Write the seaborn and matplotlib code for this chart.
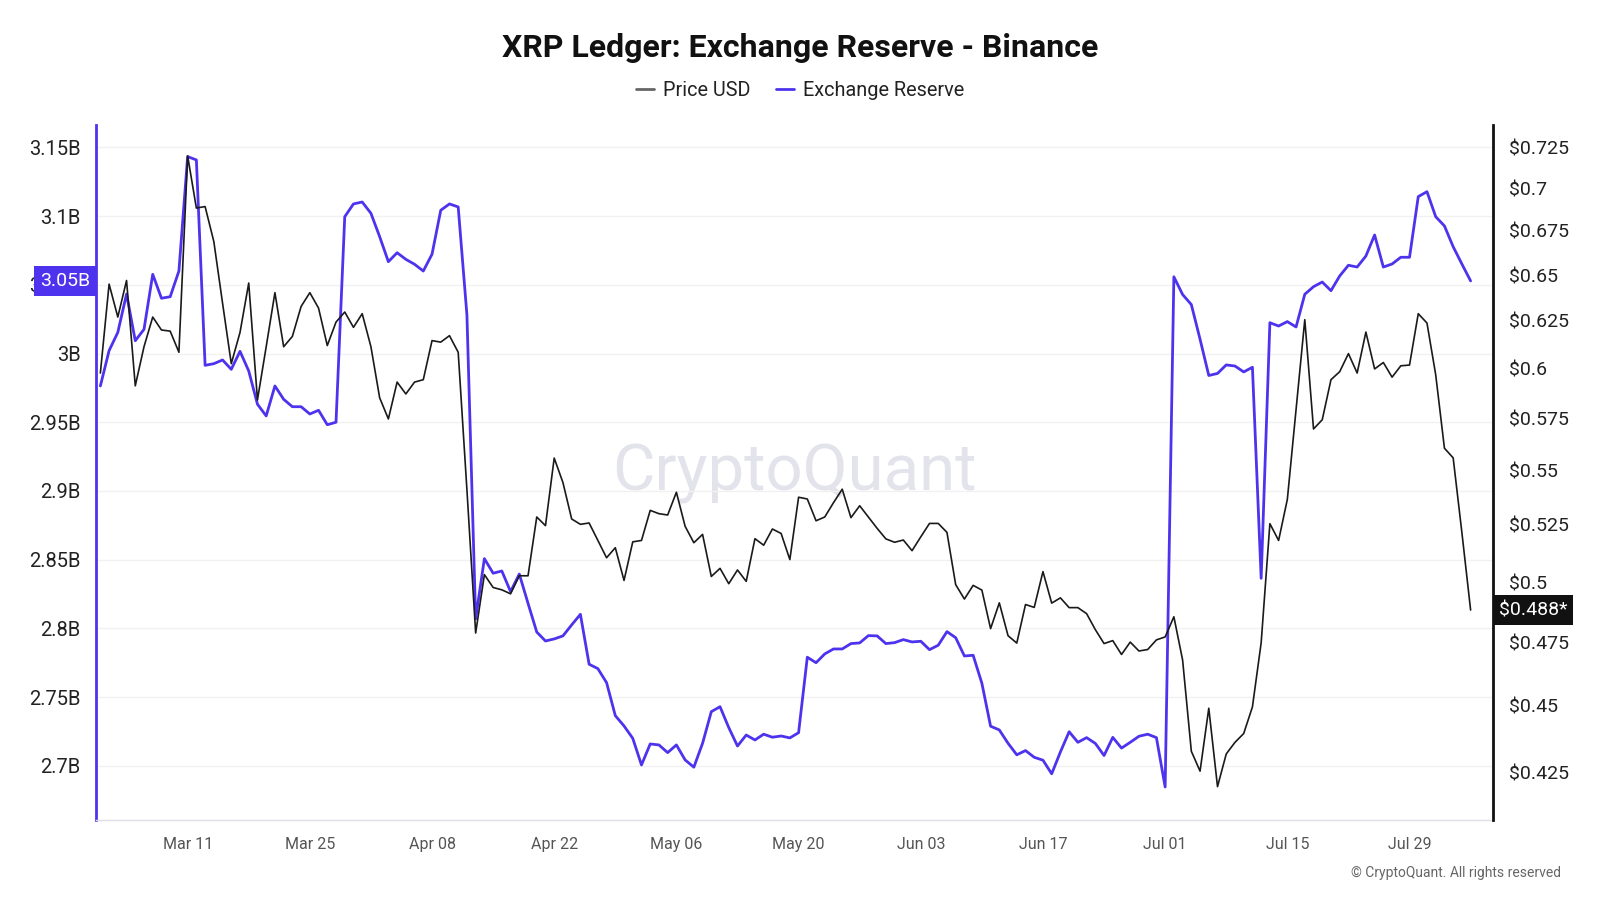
import pandas as pd
import seaborn as sns
import matplotlib.pyplot as plt
import matplotlib.dates as mdates
import matplotlib.transforms as mtransforms
from matplotlib.lines import Line2D
from matplotlib.ticker import NullLocator

# Daily values, 2024-03-01 .. 2024-08-05
price_usd = [
    0.5978, 0.6450, 0.6271, 0.6470, 0.5913, 0.6114, 0.6271, 0.6202, 0.6196, 0.6085,
    0.7197, 0.6883, 0.6892, 0.6689, 0.6346, 0.6026, 0.6189, 0.6456, 0.5842, 0.6114,
    0.6403, 0.6114, 0.6168, 0.6328, 0.6403, 0.6319, 0.6120, 0.6244, 0.6298, 0.6216,
    0.6289, 0.6114, 0.5853, 0.5748, 0.5932, 0.5872, 0.5932, 0.5944, 0.6146, 0.6138,
    0.6172, 0.6085, 0.5410, 0.4787, 0.5032, 0.4977, 0.4967, 0.4950, 0.5027, 0.5027,
    0.5286, 0.5247, 0.5559, 0.5444, 0.5277, 0.5253, 0.5259, 0.5181, 0.5105, 0.5149,
    0.5007, 0.5175, 0.5181, 0.5316, 0.5301, 0.5295, 0.5399, 0.5244, 0.5171, 0.5208,
    0.5024, 0.5059, 0.4993, 0.5052, 0.5003, 0.5189, 0.5160, 0.5232, 0.5212, 0.5097,
    0.5376, 0.5368, 0.5269, 0.5286, 0.5351, 0.5413, 0.5283, 0.5337, 0.5286, 0.5235,
    0.5188, 0.5173, 0.5183, 0.5136, 0.5197, 0.5257, 0.5257, 0.5217, 0.4989, 0.4928,
    0.4986, 0.4966, 0.4805, 0.4912, 0.4776, 0.4746, 0.4905, 0.4893, 0.5045, 0.4911,
    0.4933, 0.4892, 0.4892, 0.4867, 0.4801, 0.4744, 0.4756, 0.4700, 0.4750, 0.4714,
    0.4720, 0.4759, 0.4771, 0.4854, 0.4678, 0.4327, 0.4254, 0.4489, 0.4198, 0.4317,
    0.4360, 0.4393, 0.4494, 0.4747, 0.5256, 0.5181, 0.5366, 0.5793, 0.6257, 0.5699,
    0.5744, 0.5944, 0.5985, 0.6078, 0.5978, 0.6191, 0.5999, 0.6032, 0.5957, 0.6015,
    0.6019, 0.6289, 0.6239, 0.5969, 0.5606, 0.5560, 0.5216, 0.4882,
]

# Exchange reserve in billions XRP
reserve_b = [
    2.9764, 3.0021, 3.0154, 3.0433, 3.0093, 3.0176, 3.0576, 3.0402, 3.0413, 3.0600,
    3.1432, 3.1408, 2.9914, 2.9926, 2.9953, 2.9885, 3.0016, 2.9873, 2.9631, 2.9546,
    2.9764, 2.9667, 2.9613, 2.9613, 2.9560, 2.9587, 2.9482, 2.9500, 3.0995, 3.1088,
    3.1102, 3.1020, 3.0850, 3.0668, 3.0733, 3.0685, 3.0649, 3.0600, 3.0722, 3.1042,
    3.1088, 3.1066, 3.0280, 2.8070, 2.8508, 2.8402, 2.8418, 2.8268, 2.8396, 2.8183,
    2.7974, 2.7909, 2.7924, 2.7946, 2.8026, 2.8103, 2.7740, 2.7708, 2.7606, 2.7366,
    2.7291, 2.7201, 2.7007, 2.7160, 2.7153, 2.7097, 2.7153, 2.7044, 2.6991, 2.7165,
    2.7395, 2.7431, 2.7279, 2.7145, 2.7225, 2.7189, 2.7231, 2.7209, 2.7218, 2.7204,
    2.7242, 2.7791, 2.7751, 2.7815, 2.7851, 2.7851, 2.7890, 2.7895, 2.7948, 2.7946,
    2.7890, 2.7897, 2.7919, 2.7902, 2.7907, 2.7846, 2.7878, 2.7977, 2.7933, 2.7800,
    2.7805, 2.7602, 2.7289, 2.7262, 2.7165, 2.7081, 2.7112, 2.7063, 2.7042, 2.6943,
    2.7102, 2.7249, 2.7172, 2.7206, 2.7164, 2.7076, 2.7208, 2.7130, 2.7172, 2.7216,
    2.7231, 2.7206, 2.6847, 3.0558, 3.0429, 3.0356, 3.0104, 2.9840, 2.9855, 2.9917,
    2.9909, 2.9866, 2.9900, 2.8365, 3.0224, 3.0200, 3.0232, 3.0193, 3.0431, 3.0486,
    3.0520, 3.0457, 3.0564, 3.0642, 3.0629, 3.0709, 3.0862, 3.0629, 3.0651, 3.0700,
    3.0700, 3.1141, 3.1177, 3.0995, 3.0928, 3.0777, 3.0651, 3.0528,
]

reserve_ticks = [2.7, 2.75, 2.8, 2.85, 2.9, 2.95, 3.0, 3.05, 3.1, 3.15]
reserve_labels = ['2.7B', '2.75B', '2.8B', '2.85B', '2.9B', '2.95B', '3B', '3.05B', '3.1B', '3.15B']
price_ticks = [0.425, 0.45, 0.475, 0.5, 0.525, 0.55, 0.575, 0.6, 0.625, 0.65, 0.675, 0.7, 0.725]
price_labels = ['$0.425', '$0.45', '$0.475', '$0.5', '$0.525', '$0.55', '$0.575', '$0.6',
                '$0.625', '$0.65', '$0.675', '$0.7', '$0.725']
date_ticks = pd.date_range('2024-03-11', '2024-07-29', freq='14D')

df = pd.DataFrame({
    'date': pd.date_range('2024-03-01', periods=len(price_usd), freq='D'),
    'price': price_usd,
    'reserve': reserve_b,
})

BLUE = '#4d33ee'
BLACK = '#1a1a1a'

sns.set_theme(style='white')
plt.rcParams['font.family'] = ['Roboto', 'DejaVu Sans']

fig = plt.figure(figsize=(16, 9), dpi=100)
ax = fig.add_axes([0.06, 0.0889, 0.873, 0.7722])

# Exchange reserve on the left axis
sns.lineplot(data=df, x='date', y='reserve', ax=ax, color=BLUE, linewidth=2.0)
ax.set_ylim(2.6607, 3.1662)
ax.set_yticks(reserve_ticks)
ax.set_yticklabels(reserve_labels)
ax.yaxis.grid(True, color='#f1f1f1', linewidth=1)
ax.xaxis.grid(False)
ax.set_xlabel('')
ax.set_ylabel('')

ax.set_xlim(pd.Timestamp('2024-02-29 12:00'), pd.Timestamp('2024-08-07 13:00'))
ax.set_xticks(date_ticks)
ax.xaxis.set_major_formatter(mdates.DateFormatter('%b %d'))
ax.tick_params(axis='x', length=0, pad=12, labelsize=11.5, labelcolor='#555555')
ax.tick_params(axis='y', length=0, pad=11, labelsize=14.5, labelcolor='#222222')

for side in ['top', 'right']:
    ax.spines[side].set_visible(False)
ax.spines['left'].set_color(BLUE)
ax.spines['left'].set_linewidth(2)
ax.spines['bottom'].set_color('#dedee8')
ax.spines['bottom'].set_linewidth(1)

# Price on the right axis (log scale)
ax2 = ax.twinx()
sns.lineplot(data=df, x='date', y='price', ax=ax2, color=BLACK, linewidth=1.2)
ax2.set_yscale('log')
ax2.set_ylim(0.40801, 0.73894)
ax2.set_yticks(price_ticks)
ax2.set_yticklabels(price_labels)
ax2.yaxis.set_minor_locator(NullLocator())
ax2.set_ylabel('')
ax2.tick_params(axis='y', length=0, pad=11.5, labelsize=14, labelcolor='#222222')
for side in ['top', 'left', 'bottom']:
    ax2.spines[side].set_visible(False)
ax2.spines['right'].set_color('#111111')
ax2.spines['right'].set_linewidth(2)
ax2.grid(False)

# Watermark
ax.text(0.5, 0.50, 'CryptoQuant', transform=ax.transAxes, ha='center', va='center',
        fontsize=47, color='#e3e3eb', zorder=0.5)

# Last-value markers on both axes
last_res = df['reserve'].iloc[-1]
last_px = df['price'].iloc[-1]
trans_l = mtransforms.blended_transform_factory(ax.transAxes, ax.transData)
ax.text(-0.0043, last_res, f'{last_res:.2f}B', transform=trans_l, ha='right', va='center',
        fontsize=14, color='white', zorder=10, clip_on=False,
        bbox=dict(boxstyle='square,pad=0.3', fc=BLUE, ec='none'))
trans_r = mtransforms.blended_transform_factory(ax2.transAxes, ax2.transData)
ax2.text(1.0043, last_px, f'${last_px:.3f}*', transform=trans_r, ha='left', va='center',
         fontsize=14, color='white', zorder=10, clip_on=False,
         bbox=dict(boxstyle='square,pad=0.3', fc='#111111', ec='none'))

# Title and legend
fig.text(0.5, 0.947, 'XRP Ledger: Exchange Reserve - Binance', ha='center', va='center',
         fontsize=23, fontweight='bold', color='#111111')
handles = [Line2D([], [], color='#666666', linewidth=2),
           Line2D([], [], color=BLUE, linewidth=2)]
fig.legend(handles, ['Price USD', 'Exchange Reserve'], loc='center',
           bbox_to_anchor=(0.5, 0.899), ncol=2, frameon=False, fontsize=14.3,
           handlelength=0.9, handletextpad=0.45, columnspacing=1.3, labelcolor='#222222')

fig.text(0.9756, 0.03, '\u00a9 CryptoQuant. All rights reserved', ha='right', va='center',
         fontsize=10, color='#666666')

plt.savefig('out.png', dpi=100)
